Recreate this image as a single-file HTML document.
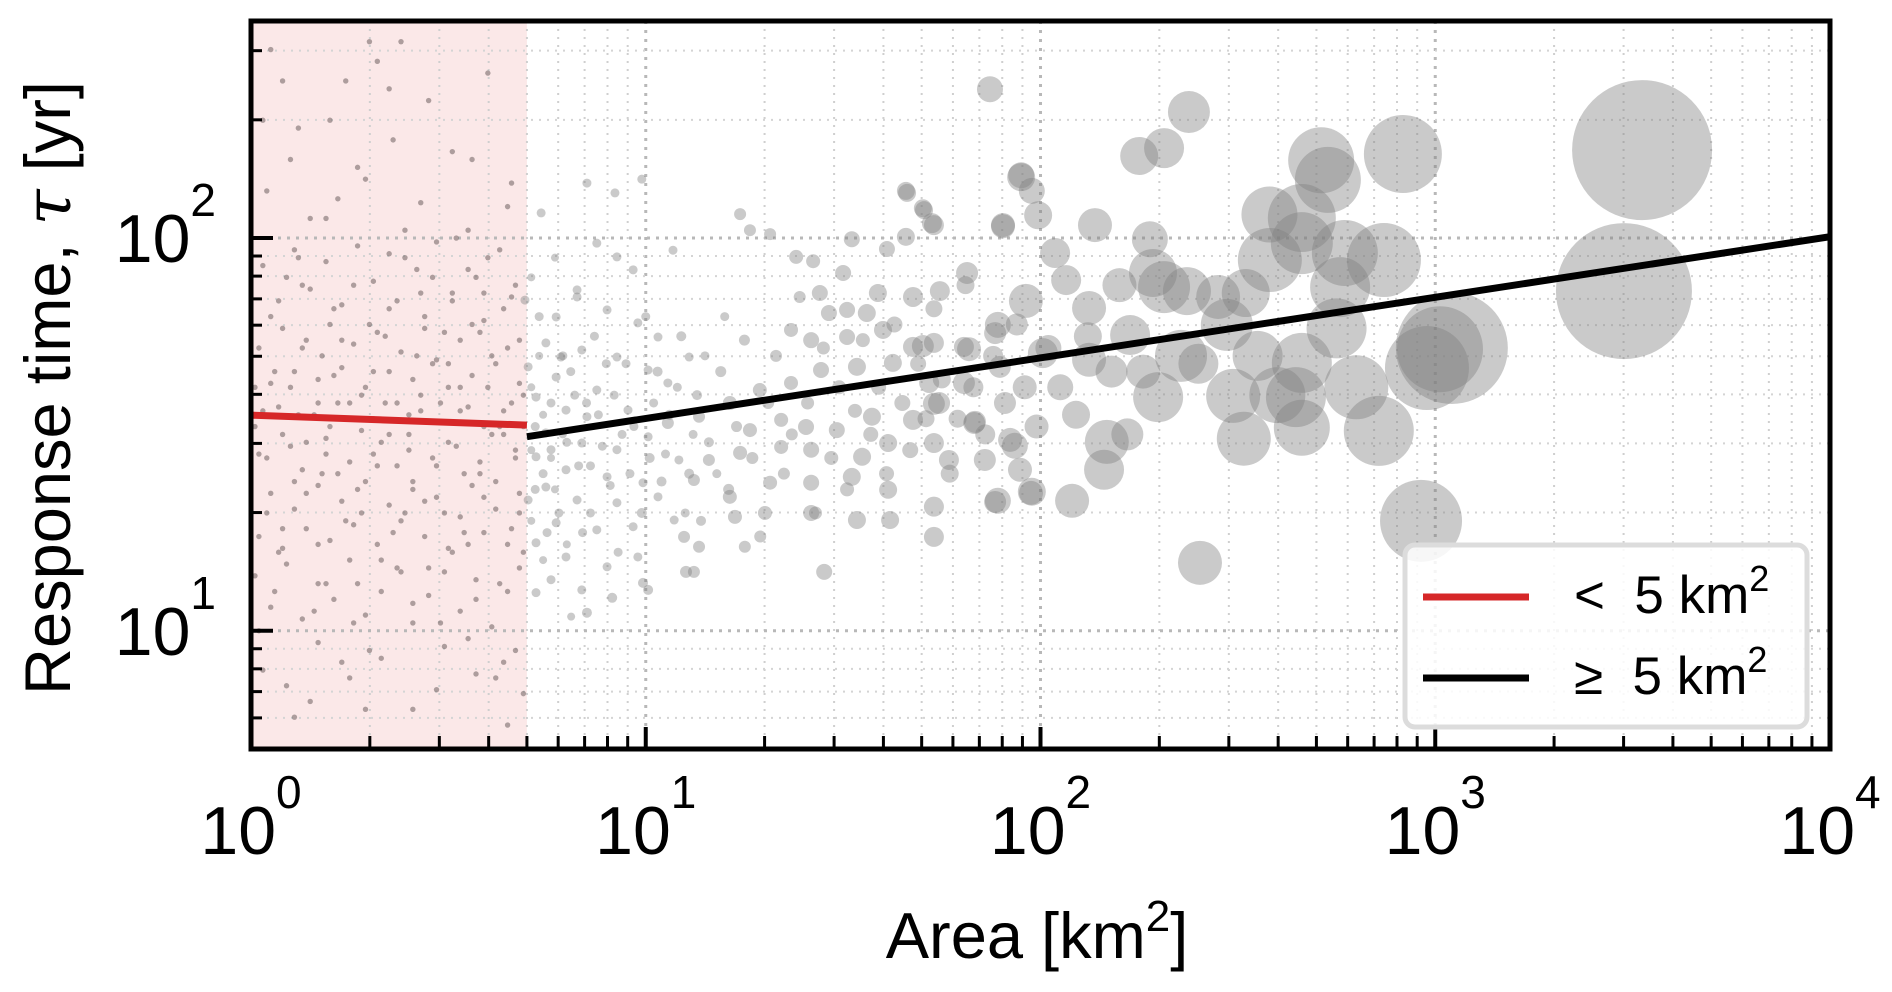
<!DOCTYPE html>
<html><head><meta charset="utf-8"><style>
html,body{margin:0;padding:0;background:#fff;}
svg{display:block;font-family:"Liberation Sans",sans-serif;}
.pre{white-space:pre;}
</style></head><body>
<svg id="chart" width="1892" height="992" viewBox="0 0 1892 992" xmlns="http://www.w3.org/2000/svg">
<defs><clipPath id="plotclip"><rect x="251" y="21" width="1579" height="728"/></clipPath></defs>
<g id="bg"></g>
<g id="grid"></g>
<g id="marks" clip-path="url(#plotclip)"></g>
<g id="fits" clip-path="url(#plotclip)"></g>
<g id="axes"></g>
<g id="legend">
  <rect x="1405" y="545" width="402" height="182" rx="10" fill="#fff" fill-opacity="0.85" stroke="#dcdcdc" stroke-width="5"/>
  <line x1="1423" y1="597" x2="1529" y2="597" stroke="#d62728" stroke-width="7"/>
  <line x1="1423" y1="678" x2="1529" y2="678" stroke="#000" stroke-width="7"/>
  <text class="pre" x="1574" y="613" font-size="53">&lt;  5 km<tspan dy="-22" font-size="36">2</tspan></text>
  <text class="pre" x="1574" y="694" font-size="53">≥  5 km<tspan dy="-22" font-size="36">2</tspan></text>
</g>
<text transform="translate(70,388) rotate(-90)" text-anchor="middle" font-size="65">Response time, <tspan font-style="italic" font-family="DejaVu Serif, serif">τ</tspan> [yr]</text>
<text x="1037" y="958" text-anchor="middle" font-size="65">Area [km<tspan dy="-27" font-size="44">2</tspan><tspan dy="27">]</tspan></text>
</svg>
<script>
// ---- data (log10 space) ----
const xTickLabels = ["0","1","2","3","4"];
const yTickLabels = ["1","2"];
const fitSmall = {a0:0, a1:Math.log10(5), tau0:35.4, tau1:33.4};
const fitLarge = {a0:Math.log10(5), a1:4, tau0:31.2, tau1:100.8};
const smallCatchments = [[0.02,1.45],[0.05,1.80],[0.07,1.20],[0.10,1.62],[0.12,1.95],[0.14,1.35],[0.16,1.05],[0.18,1.70],[0.20,1.52],[0.22,2.10],[0.24,1.28],[0.26,1.88],[0.28,1.60],[0.30,0.95],[0.32,1.42],[0.34,1.75],[0.36,2.25],[0.38,1.15],[0.40,1.55],[0.42,1.92],[0.44,1.33],[0.46,1.68],[0.48,1.02],[0.50,1.48],[0.52,2.00],[0.54,1.25],[0.56,1.78],[0.58,1.40],[0.60,1.62],[0.62,0.88],[0.64,1.50],[0.66,1.85],[0.68,1.30],
[0.01,1.62],[0.03,2.30],[0.06,1.10],[0.08,1.50],[0.11,1.38],[0.13,1.72],[0.15,2.05],[0.17,1.22],[0.19,1.45],[0.21,1.82],[0.23,0.92],[0.25,1.58],[0.27,1.36],[0.29,2.15],[0.31,1.66],[0.33,1.18],[0.35,1.50],[0.37,1.84],[0.39,1.30],[0.41,1.07],[0.43,1.60],[0.45,2.35],[0.47,1.42],[0.49,1.76],[0.51,1.20],[0.53,1.56],[0.55,0.98],[0.57,1.90],[0.59,1.34],[0.61,1.70],[0.63,1.12],[0.65,2.08],[0.67,1.46],[0.69,1.60],
[0.04,1.30],[0.09,1.90],[0.12,1.55],[0.15,0.82],[0.18,1.40],[0.21,1.65],[0.24,2.40],[0.27,1.12],[0.30,1.78],[0.33,1.48],[0.36,1.25],[0.39,2.02],[0.42,1.70],[0.45,1.16],[0.48,1.58],[0.51,1.86],[0.54,1.40],[0.57,1.08],[0.60,1.95],[0.63,1.52],[0.66,1.26],[0.68,1.74],
[0.02,1.00],[0.06,1.66],[0.10,2.20],[0.14,1.48],[0.19,1.12],[0.23,1.74],[0.28,1.30],[0.32,2.45],[0.37,1.58],[0.41,1.38],[0.46,1.90],[0.50,1.68],[0.55,1.22],[0.59,1.52],[0.64,1.82],[0.67,0.95],
[0.03,1.56],[0.08,1.26],[0.13,1.88],[0.17,1.58],[0.22,1.40],[0.26,1.02],[0.31,1.54],[0.35,1.96],[0.40,1.46],[0.44,1.80],[0.49,1.30],[0.53,1.62],[0.58,1.76],[0.62,1.38],[0.66,1.58],[0.69,1.20],
[0.05,2.48],[0.11,0.78],[0.20,2.30],[0.29,0.80],[0.38,2.50],[0.47,0.85],[0.56,2.20],[0.65,0.76],
[0.03,0.90],[0.09,0.86],[0.17,0.97],[0.25,0.88],[0.33,0.93],[0.41,0.80],[0.49,0.96],[0.57,0.89],[0.64,0.92],[0.69,0.84],
[0.01,1.14],[0.05,1.06],[0.09,1.17],[0.13,1.03],[0.17,1.12],[0.21,1.08],[0.25,1.18],[0.29,1.04],[0.33,1.10],[0.37,1.16],[0.41,1.02],[0.45,1.09],[0.49,1.15],[0.53,1.05],[0.57,1.13],[0.61,1.01],[0.65,1.10],[0.68,1.16],
[0.02,1.24],[0.05,1.35],[0.08,1.21],[0.11,1.31],[0.14,1.26],[0.17,1.37],[0.20,1.23],[0.23,1.33],[0.26,1.27],[0.29,1.38],[0.32,1.22],[0.35,1.32],[0.38,1.28],[0.41,1.36],[0.44,1.24],[0.47,1.34],[0.50,1.21],[0.53,1.29],[0.56,1.37],[0.59,1.25],[0.62,1.31],[0.65,1.22],[0.68,1.35],
[0.01,1.52],[0.04,1.44],[0.07,1.57],[0.10,1.47],[0.13,1.41],[0.16,1.55],[0.19,1.49],[0.22,1.58],[0.25,1.43],[0.28,1.51],[0.31,1.45],[0.34,1.58],[0.37,1.42],[0.40,1.50],[0.43,1.56],[0.46,1.44],[0.49,1.53],[0.52,1.47],[0.55,1.57],[0.58,1.43],[0.61,1.50],[0.64,1.56],[0.67,1.44],[0.69,1.52],
[0.02,1.72],[0.05,1.63],[0.08,1.77],[0.11,1.66],[0.14,1.74],[0.17,1.64],[0.20,1.78],[0.23,1.67],[0.26,1.73],[0.29,1.62],[0.32,1.76],[0.35,1.66],[0.38,1.71],[0.41,1.64],[0.44,1.77],[0.47,1.69],[0.50,1.62],[0.53,1.74],[0.56,1.65],[0.59,1.79],[0.62,1.68],[0.65,1.72],[0.68,1.63],
[0.03,1.93],[0.07,1.84],[0.11,1.97],[0.15,1.87],[0.19,1.94],[0.23,1.83],[0.27,1.98],[0.31,1.89],[0.35,1.82],[0.39,1.95],[0.43,1.86],[0.47,1.99],[0.51,1.84],[0.55,1.92],[0.59,1.86],[0.63,1.97],[0.67,1.88],
[0.04,2.12],[0.12,2.28],[0.19,2.05],[0.27,2.18],[0.35,2.38],[0.43,2.09],[0.51,2.22],[0.60,2.42],[0.66,2.14],[0.08,2.40],[0.30,2.50],[0.55,2.02]];
const largeCatchments = [[3.524,2.224,70],[3.478,1.865,68],[2.918,2.214,39],[2.964,1.280,41],[2.404,1.173,22],[2.376,2.321,21],[2.313,2.229,20],[2.250,2.209,19],[1.872,2.379,13],[3.012,1.717,43],[3.042,1.720,56],[2.979,1.669,42],[2.857,1.509,35],[2.728,2.148,33],[2.711,2.198,33],[2.870,1.944,37],[2.771,1.962,33],[2.662,2.051,34],[2.581,1.944,32],[2.662,1.987,31],[2.759,1.875,30],[2.662,1.682,30],[2.647,1.595,30],[2.515,1.489,27],[2.662,1.517,28],[2.488,1.598,27],[2.472,1.779,26],[2.356,1.700,26],[2.298,1.595,25],[2.313,1.875,26],[2.285,1.911,24],[2.371,1.865,24],[2.168,1.481,22],[2.161,1.410,20],[2.080,1.331,17],[1.978,1.354,14],[1.892,1.331,13],[1.994,2.058,14],[1.951,2.160,13],[1.978,2.120,13],[2.138,2.033,17],[2.277,1.997,18],[2.037,1.962,15],[1.963,1.840,17],[2.123,1.822,17],[1.905,2.033,12],[2.065,1.893,15],[2.227,1.753,20],[2.123,1.690,17],[2.006,1.707,15],[1.892,1.779,13],[1.819,1.717,12],[1.702,1.725,11],[1.730,1.578,11],[1.834,1.532,11],[1.935,1.471,13],[1.730,2.033,10],[1.702,2.076,9],[1.659,2.120,9],
[1.951,2.155,14],[1.662,2.115,9],[1.705,2.071,9],[1.725,2.038,10],[1.659,2.003,9],[1.611,1.972,8],[1.522,1.997,8],[1.500,1.911,8],[1.441,1.860,8],[1.424,1.941,7],[1.381,1.952,7],[1.315,2.010,6],[1.264,2.020,6],[1.239,2.061,6],[1.905,2.030,12],[1.814,1.911,11],[1.745,1.865,10],[1.677,1.850,10],[1.588,1.860,9],[1.560,1.809,9],[1.510,1.817,8],[1.464,1.809,8],[1.368,1.766,7],[1.419,1.740,8],[1.510,1.748,8],[1.601,1.766,9],[1.677,1.723,10],[1.730,1.733,10],[1.806,1.723,10],[1.885,1.758,11],[1.897,1.672,11],[1.806,1.631,11],[1.718,1.631,10],[1.626,1.682,9],[1.535,1.672,9],[1.444,1.664,8],[1.368,1.631,7],[1.289,1.613,7],[1.213,1.580,7],[1.135,1.545,6],[1.056,1.529,6],[1.743,1.580,11],[1.677,1.537,10],[1.573,1.545,9],[1.484,1.511,8],[1.406,1.519,8],[1.343,1.537,7],[1.264,1.511,7],[1.832,1.529,11],[1.923,1.486,12],[1.730,1.478,10],[1.614,1.478,9],[1.548,1.443,9],[1.419,1.461,8],[1.343,1.468,7],[1.239,1.453,7],[1.160,1.435,6],[1.768,1.435,10],[1.859,1.435,11],[1.948,1.410,12],[1.976,1.351,12],[1.885,1.328,11],[1.730,1.316,10],[1.614,1.359,9],[1.522,1.392,9],[1.419,1.377,8],[1.315,1.377,7],[1.213,1.341,7],[1.122,1.384,6],[1.730,1.239,10],[1.619,1.282,9],[1.535,1.282,9],[1.419,1.300,8],[1.302,1.300,7],[1.226,1.290,7],[1.251,1.214,6],[1.135,1.214,6],[1.097,1.239,6],[1.452,1.150,8],[1.102,1.150,6],[1.122,1.150,6],[1.006,1.104,5],[0.993,1.122,5],[0.915,1.084,5],[0.851,1.046,5],[0.811,1.036,4],
[0.735,2.064,4.5],[0.876,1.987,4.5],[0.927,1.952,4.5],[0.968,1.919,4.5],[0.826,1.850,4.5],[0.773,1.799,4.5],[0.902,1.817,4.5],[0.980,1.784,4.5],[0.747,1.733,4.5],[0.838,1.715,4.5],[0.927,1.697,4.5],[1.006,1.664,4.5],[0.773,1.646,4.5],[0.876,1.613,4.5],[0.722,1.595,4.5],[0.798,1.562,4.5],[0.955,1.562,4.5],[0.747,1.504,4.5],[0.838,1.478,4.5],[0.927,1.461,4.5],[0.722,1.443,4.5],[0.798,1.410,4.5],[0.902,1.392,4.5],[0.993,1.377,4.5],[0.747,1.366,4.5],[0.826,1.333,4.5],[0.927,1.326,4.5],[0.773,1.275,4.5],[0.876,1.257,4.5],[0.968,1.265,4.5],[0.722,1.224,4.5],[0.798,1.188,4.5],[0.902,1.163,4.5],[0.760,1.130,4.5],[0.838,1.104,4.5],[0.722,1.097,4.5],[0.694,1.842,4.5],[0.702,1.672,4.5],[0.702,1.333,4.5],[0.851,2.140,4.5],[0.922,2.115,4.5],[0.990,2.150,4.5],[0.826,1.868,4.5],[1.069,1.969,4.5],[1.031,1.748,4.5],[1.056,1.631,4.5],[1.110,1.697,4.5],[1.006,1.494,4.5],[1.084,1.435,4.5],[1.031,1.341,4.5],[1.072,1.282,4.5],[0.980,1.188,4.5],[0.760,1.461,4.5],[0.851,1.545,4.5],[0.785,1.697,4.5],
[0.72,1.52,4.5],[0.74,1.40,4.5],[0.76,1.58,4.5],[0.78,1.30,4.5],[0.80,1.48,4.5],[0.72,1.36,4.5],[0.75,1.25,4.5],[0.82,1.60,4.5],[0.79,1.70,4.5],[0.73,1.80,4.5],[0.86,1.42,4.5],[0.88,1.55,4.5],[0.84,1.25,4.5],[0.90,1.68,4.5],[0.94,1.50,4.5],[0.96,1.40,4.5],[1.02,1.58,4.5],[1.05,1.45,4.5],[1.08,1.62,4.5],[1.12,1.50,4.5],[1.15,1.70,4.5],[1.18,1.40,4.5],[1.20,1.80,4.5],[1.10,1.30,4.5],[1.00,1.80,4.5],
[0.71,1.62,4],[0.71,1.46,4],[0.71,1.28,4],[0.71,1.90,4],[0.73,1.70,4],[0.74,1.55,4],[0.74,1.18,4],[0.76,1.44,4],[0.77,1.36,4],[0.77,1.95,4],[0.79,1.50,4],[0.80,1.22,4],[0.81,1.66,4.5],[0.83,1.42,4.5],[0.85,1.58,4.5],[0.86,1.30,4.5],[0.87,1.75,4.5],[0.89,1.47,4.5],[0.91,1.37,4.5],[0.92,1.60,4.5],[0.93,1.20,4.5],[0.95,1.68,4.5],[0.97,1.52,4.5],[0.99,1.30,5],[1.01,1.44,5],[1.03,1.66,5],[1.04,1.38,5],[1.06,1.55,5],[1.09,1.75,5],[1.11,1.40,5],[1.13,1.60,5],[1.14,1.28,5],[1.16,1.48,5],[1.19,1.66,5.5],[1.21,1.36,5.5],[1.23,1.52,5.5],[1.25,1.74,5.5],[1.27,1.44,6],[1.29,1.24,6],[1.31,1.58,6],[1.33,1.70,6],[1.35,1.40,6],[1.37,1.50,6],[1.39,1.85,6],[1.41,1.58,6.5],[1.43,1.30,6.5],[1.45,1.72,6.5],[1.47,1.44,7],[1.49,1.62,7],[1.51,1.36,7],[1.53,1.56,7],[1.55,1.74,7],[1.57,1.50,7.5],[1.59,1.62,7.5],[1.61,1.40,7.5],[1.63,1.78,8],[1.65,1.58,8],[1.67,1.46,8],[1.69,1.68,8],[1.71,1.54,8.5],[1.73,1.82,8.5],[1.75,1.64,9],[1.77,1.40,9],[1.79,1.54,9],[1.81,1.88,9],[1.83,1.62,10],[1.86,1.50,10],[1.88,1.70,10],[1.91,1.58,11],[1.94,1.78,11],[1.96,1.62,12],[1.99,1.52,12],[2.02,1.72,13],[2.05,1.62,13],[2.09,1.55,14],[2.12,1.75,14],[2.18,1.66,16],[2.22,1.50,16],[2.26,1.66,17],[2.20,1.88,17],[2.40,1.68,20],[2.45,1.85,22],[2.55,1.70,25],[2.52,1.86,24],[2.60,1.60,28],[2.75,1.77,30],[2.80,1.62,32],[2.58,2.06,28]];

// ---- axes ----
const PL=251, PR=1830, PT=21, PB=749;
const xMin=0, xMax=4, yMin=Math.log10(5), yMax=Math.log10(357);
const X = l => PL + (l-xMin)/(xMax-xMin)*(PR-PL);
const Y = l => PB - (l-yMin)/(yMax-yMin)*(PB-PT);
const NS="http://www.w3.org/2000/svg";
function mk(tag, parent, attrs){const e=document.createElementNS(NS,tag);for(const k in attrs)e.setAttribute(k,attrs[k]);parent.appendChild(e);return e;}

const bg=document.getElementById('bg'), grid=document.getElementById('grid'), marks=document.getElementById('marks'), fits=document.getElementById('fits'), axes=document.getElementById('axes');
let r=mk('rect',bg,{x:PL,y:PT,width:X(Math.log10(5))-PL,height:PB-PT,fill:'#fbe8e8'});



for(let d=0; d<4; d++){
  for(let m=1;m<10;m++){
    const l=d+Math.log10(m), x=X(l);
    if(m>1){ let g=mk('line',grid,{x1:x,y1:PT,x2:x,y2:PB,stroke:'#cfcfcf','stroke-width':2,'stroke-dasharray':'2,6'});
        }
    let t=mk('line',axes,{x1:x,y1:PB,x2:x,y2:PB-(m===1?22:13),stroke:'#000','stroke-width':m===1?4:3});
     
  }
}
for(let d=0; d<=4; d++){
  const x=X(d);
  if(d>0&&d<4){ let g=mk('line',grid,{x1:x,y1:PT,x2:x,y2:PB,stroke:'#b8b8b8','stroke-width':3,'stroke-dasharray':'3,6'});
      }
  const t=mk('text',axes,{x:x,y:854,'text-anchor':'middle','font-size':68});
   
  t.innerHTML='10<tspan dy="-46" font-size="46">'+xTickLabels[d]+'</tspan>';
}
for(let d=0; d<=2; d++){
  for(let m=1;m<10;m++){
    const l=d+Math.log10(m); if(l<yMin||l>yMax) continue;
    const y=Y(l);
    let g=mk('line',grid,{x1:PL,y1:y,x2:PR,y2:y,stroke:m===1?'#b8b8b8':'#d4d4d4','stroke-width':m===1?3:2,'stroke-dasharray':m===1?'3,6':'2,6'});
     
    let t=mk('line',axes,{x1:PL,y1:y,x2:PL+(m===1?22:11),y2:y,stroke:'#000','stroke-width':m===1?4:3});
     
  }
}
yTickLabels.forEach(s=>{
  const y=Y(+s);
  const t=mk('text',axes,{x:216,y:y+24,'text-anchor':'end','font-size':68});
   
  t.innerHTML='10<tspan dy="-46" font-size="46">'+s+'</tspan>';
});

smallCatchments.forEach(p=>{
  const c=mk('circle',marks,{cx:X(p[0]),cy:Y(p[1]),r:2.7,fill:'#7a6a6a','fill-opacity':0.6});
   
});
largeCatchments.forEach(p=>{
  const c=mk('circle',marks,{cx:X(p[0]),cy:Y(p[1]),r:p[2],fill:'#808080','fill-opacity':0.42});
   
});

let lr=mk('line',fits,{x1:X(fitSmall.a0),y1:Y(Math.log10(fitSmall.tau0)),x2:X(fitSmall.a1),y2:Y(Math.log10(fitSmall.tau1)),stroke:'#d62728','stroke-width':7});
 
let lb=mk('line',fits,{x1:X(fitLarge.a0),y1:Y(Math.log10(fitLarge.tau0)),x2:X(fitLarge.a1),y2:Y(Math.log10(fitLarge.tau1)),stroke:'#000','stroke-width':7});
 

let fr=mk('rect',axes,{x:PL,y:PT,width:PR-PL,height:PB-PT,fill:'none',stroke:'#000','stroke-width':5});
 
</script>
</body></html>
